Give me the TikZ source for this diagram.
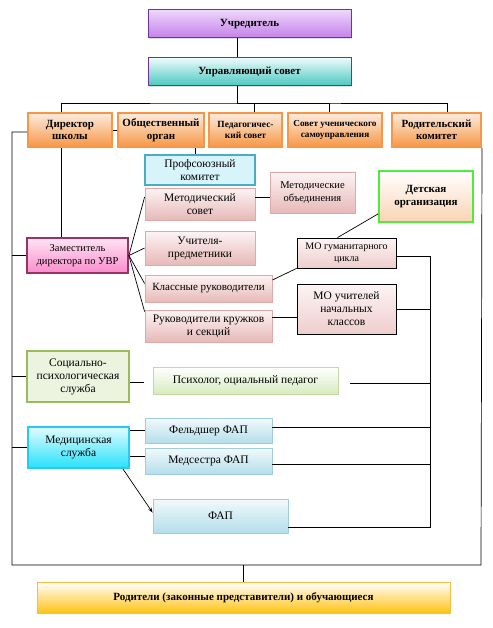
\documentclass[tikz,border=0pt]{standalone}
\usepackage{fontspec}
\setmainfont{Liberation Serif}
\usetikzlibrary{shadows, arrows.meta}

\definecolor{violetline}{RGB}{112,48,160}
\definecolor{violettop}{RGB}{238,214,252}
\definecolor{violetbot}{RGB}{196,128,232}
\definecolor{tealtop}{RGB}{236,250,250}
\definecolor{tealbot}{RGB}{72,200,192}
\definecolor{orgline}{RGB}{247,150,70}
\definecolor{orgtop}{RGB}{253,236,222}
\definecolor{orgbot}{RGB}{247,150,70}
\definecolor{cyanline}{RGB}{75,172,198}
\definecolor{cyanfill}{RGB}{214,244,250}
\definecolor{roseline}{RGB}{222,170,168}
\definecolor{rosetop}{RGB}{253,244,244}
\definecolor{rosebot}{RGB}{230,185,184}
\definecolor{greenline}{RGB}{80,235,60}
\definecolor{peachbot}{RGB}{250,212,180}
\definecolor{plumline}{RGB}{153,51,102}
\definecolor{plumtop}{RGB}{255,228,244}
\definecolor{plumbot}{RGB}{250,140,205}
\definecolor{oliveline}{RGB}{155,187,89}
\definecolor{olivefill}{RGB}{236,243,222}
\definecolor{limeline}{RGB}{196,216,160}
\definecolor{limebot}{RGB}{215,235,192}
\definecolor{skyline}{RGB}{40,200,250}
\definecolor{skytop}{RGB}{225,252,255}
\definecolor{skybot}{RGB}{40,225,250}
\definecolor{iceline}{RGB}{160,205,222}
\definecolor{icetop}{RGB}{242,249,252}
\definecolor{icebot}{RGB}{180,222,234}
\definecolor{goldline}{RGB}{245,190,70}
\definecolor{goldbot}{RGB}{255,194,20}

\tikzset{
  box/.style={rectangle, align=center, inner sep=1pt,
    font=\fontsize{11.5}{13}\selectfont,
    drop shadow={opacity=0.25, shadow xshift=1.2pt, shadow yshift=-1.2pt}},
  head/.style={box, font=\fontsize{11}{12.5}\selectfont\bfseries},
  topbox/.style={head, draw=violetline, line width=1pt},
  orgbox/.style={head, draw=orgline, line width=2pt, top color=orgtop, bottom color=orgbot},
  rosebox/.style={box, draw=roseline, line width=0.8pt, top color=rosetop, bottom color=rosebot},
  mobox/.style={box, draw=black, line width=0.8pt, top color=rosetop, bottom color=rosebot!70},
  icebox/.style={box, draw=iceline, line width=0.8pt, top color=icetop, bottom color=icebot},
}

\begin{document}
\begin{tikzpicture}[>={Stealth[length=5pt, width=3.5pt]}, x=1pt, y=-1pt, line width=0.7pt]
\useasboundingbox (0,0) rectangle (492,628);

% top of the chart
\node[topbox, top color=violettop, bottom color=violetbot, minimum width=203pt, minimum height=28pt]
  (founder) at (249.5,24) {Учредитель};
\node[topbox, top color=tealtop, bottom color=tealbot, minimum width=203pt, minimum height=28pt]
  (board) at (249.5,72) {Управляющий совет};

\node[orgbox, minimum width=84pt, minimum height=34pt] (director) at (70,130) {Директор\\школы};
\node[orgbox, minimum width=86pt, minimum height=34pt] (public) at (161,130) {Общественный\\орган};
\node[orgbox, font=\fontsize{9.4}{11}\selectfont\bfseries, minimum width=73pt, minimum height=34pt]
  (pedsovet) at (245.5,130) {Педагогичес-\\кий совет};
\node[orgbox, font=\fontsize{9.2}{10.5}\selectfont\bfseries, minimum width=94pt, minimum height=34pt]
  (pupils) at (335,130) {Совет ученического\\самоуправления};
\node[orgbox, minimum width=89pt, minimum height=34pt] (parcom) at (436.5,130) {Родительский\\комитет};

% middle block
\node[box, draw=cyanline, line width=1.8pt, fill=cyanfill, minimum width=110pt, minimum height=30pt]
  (union) at (200,170) {Профсоюзный\\комитет};
\node[rosebox, minimum width=110pt, minimum height=32pt] (metsovet) at (200,204) {Методический\\совет};
\node[rosebox, font=\fontsize{10.5}{12.5}\selectfont, minimum width=85pt, minimum height=41pt]
  (metunion) at (312.5,192.5) {Методические\\объединения};
\node[head, draw=greenline, line width=1.8pt, top color=white, bottom color=peachbot,
  minimum width=94pt, minimum height=51pt] (kids) at (426,196.5) {Детская\\организация};

\node[box, draw=plumline, line width=1.8pt, top color=plumtop, bottom color=plumbot,
  font=\fontsize{10.5}{12.5}\selectfont, minimum width=101pt, minimum height=35pt]
  (deputy) at (77.5,255.5) {Заместитель\\директора по УВР};
\node[rosebox, minimum width=110pt, minimum height=34pt] (teachers) at (200,248) {Учителя-\\предметники};
\node[rosebox, font=\fontsize{11}{12.5}\selectfont, minimum width=127pt, minimum height=27pt]
  (classes) at (208.5,288.5) {Классные руководители};
\node[rosebox, minimum width=127pt, minimum height=32pt] (circles) at (208.5,326) {Руководители кружков\\и секций};

\node[mobox, font=\fontsize{10}{11.5}\selectfont, minimum width=99pt, minimum height=30pt]
  (mohum) at (346.5,253) {МО гуманитарного\\цикла};
\node[mobox, minimum width=99pt, minimum height=50pt] (moprim) at (346.5,309) {МО учителей\\начальных\\классов};

% services
\node[box, draw=oliveline, line width=1.8pt, fill=olivefill, minimum width=102pt, minimum height=51pt]
  (social) at (78,376.5) {Социально-\\психологическая\\служба};
\node[box, draw=limeline, line width=0.8pt, top color=white, bottom color=limebot,
  minimum width=185pt, minimum height=27pt] (psych) at (245.5,380.5) {Психолог, оциальный педагог};

\node[box, draw=skyline, line width=1.8pt, top color=skytop, bottom color=skybot,
  minimum width=101pt, minimum height=41pt] (medic) at (78.5,447.5) {Медицинская\\служба};
\node[icebox, minimum width=127pt, minimum height=25pt] (feldsher) at (208.5,430.5) {Фельдшер ФАП};
\node[icebox, minimum width=127pt, minimum height=26pt] (nurse) at (208.5,461) {Медсестра ФАП};
\node[icebox, minimum width=135pt, minimum height=34pt] (fap) at (220.5,516) {ФАП};

\node[head, draw=goldline, line width=0.8pt, top color=white, bottom color=goldbot,
  minimum width=413pt, minimum height=31pt] (parents) at (243.5,597.5) {Родители (законные представители) и обучающиеся};

% frame and bus lines
\coordinate (bus) at (237,103);
\coordinate (frameTL) at (12,132);
\coordinate (frameBL) at (12,565);
\coordinate (frameBR) at (481,565);
\coordinate (rbus) at (430,0);

\draw ([xshift=-12.5pt]founder.south) -- ([xshift=-12.5pt]board.north);
\draw ([xshift=-12.5pt]board.south) -- (bus);
\draw ([xshift=-9pt]director.north) |- (bus) -| ([xshift=10.5pt]parcom.north);
\draw (bus) -| ([xshift=8.5pt]pedsovet.north);
\draw (bus) -| ([xshift=-6pt]pupils.north);
\draw (director) -- (public);
\draw ([yshift=-2pt]director.west) -- (frameTL) -- (frameBL) -- (frameBR) -- (parcom.south east);
\draw (parents.north) -- (parents.north |- frameBL);

\draw ([xshift=-9pt]director.south) -- ([xshift=-9pt]director.south |- deputy.north);
\draw ([xshift=-5pt]union.north) -- ([xshift=-5pt]union.north |- public.south);

% deputy fan
\draw (deputy.east) -- ([yshift=7pt]metsovet.west);
\draw (deputy.east) -- (teachers.west);
\draw (deputy.east) -- ([yshift=5pt]classes.west);
\draw (deputy.east) -- ([yshift=-2pt]circles.north west);
\draw ([yshift=-4.5pt]metunion.west) -- ([yshift=-4.5pt]metunion.west -| metsovet.east);
\draw ([yshift=9pt]kids.south west) -- ([xshift=-9pt]mohum.north);
\draw ([yshift=8.5pt]classes.east) -- (mohum.south west);
\draw ([yshift=9pt]circles.east) -- ([yshift=9pt]circles.east -| moprim.west);

% right bus
\draw ([yshift=-3pt]mohum.east) -- ([yshift=-3pt]mohum.east -| rbus) -- ([yshift=-11pt]fap.east -| rbus) -- ([yshift=-11pt]fap.east);
\draw (moprim.east) -- (moprim.east -| rbus);
\draw ([xshift=12pt, yshift=-2.5pt]psych.east) -- ([yshift=-2.5pt]psych.east -| rbus);
\draw ([yshift=3.5pt]feldsher.east) -- ([yshift=3.5pt]feldsher.east -| rbus);
\draw ([yshift=-3pt]nurse.east) -- ([yshift=-3pt]nurse.east -| rbus);

% services links
\draw (deputy.west) -- (deputy.west -| frameTL);
\draw (social.west) -- (social.west -| frameTL);
\draw (medic.west) -- (medic.west -| frameTL);
\draw ([yshift=-5.5pt]social.east) -- ([yshift=-1.5pt]psych.west -| union.west);
\draw (feldsher.west -| medic.east) -- (feldsher.west);
\draw ([yshift=5pt]nurse.west -| medic.east) -- ([yshift=5pt]nurse.west);
\draw[->] ([xshift=-7pt]medic.south east) -- ([yshift=-14pt]fap.north west);
\end{tikzpicture}
\end{document}
